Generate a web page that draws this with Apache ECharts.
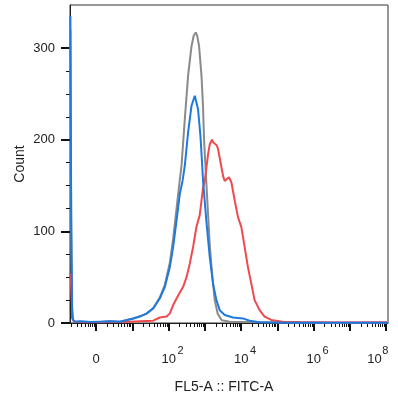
<!DOCTYPE html>
<html>
<head>
<meta charset="utf-8">
<script src="https://cdn.jsdelivr.net/npm/echarts@6/dist/echarts.min.js"></script>
<style>
html,body{margin:0;padding:0;background:#fff;}
#chart{width:398px;height:395px;}
</style>
</head>
<body>
<div id="chart"></div>
<script>
// x positions are in display decades of the biexponential axis (0 = "0", 2 = 10^2, ...)
const grayX = [-0.709,-0.687,-0.660,-0.605,-0.44,-0.165,0.11,0.385,0.66,1.025,1.394,1.575,1.759,1.897,2.034,2.125,2.219,2.290,2.356,2.447,2.537,2.631,2.694,2.749,2.790,2.840,2.906,2.950,2.977,3.024,3.079,3.134,3.203,3.271,3.354,3.464,3.684,4.234,5.058,6.158,7.258,8.027];
const grayY = [320,100,5,1.2,1.5,1,1.2,1.8,1.4,5,10,16,28,42,66,92,125,150,172,223,270,302,314,317,313,302,270,235,200,165,125,85,52,25,10,3,1.5,1,0.5,0.3,0.3,0.3];

const blueX = [-0.709,-0.687,-0.660,-0.605,-0.44,-0.165,0.11,0.385,0.66,0.825,1.025,1.21,1.394,1.575,1.759,1.897,2.034,2.125,2.219,2.309,2.384,2.447,2.537,2.631,2.722,2.763,2.812,2.878,2.95,3.043,3.134,3.225,3.318,3.409,3.546,3.775,4.05,4.234,4.509,5.058,5.608,6.158,6.708,7.258,8.027];
const blueY = [335,120,6,1.5,2,1,1.5,2,1.4,3,5,7,10.5,16,27,39.5,61,83,112,141,155,172,208,237,248,246,233,204,155,110,72,43,25,14,8.7,6,5,2.5,0.8,0.5,0.4,0.3,0.3,0.3,0.3];

const redX = [-0.709,-0.687,-0.660,-0.632,-0.55,-0.165,0.385,0.935,1.21,1.575,1.759,1.944,2.034,2.125,2.263,2.400,2.494,2.584,2.675,2.768,2.859,2.950,2.997,3.087,3.134,3.197,3.230,3.271,3.326,3.362,3.409,3.456,3.505,3.546,3.601,3.665,3.731,3.780,3.821,3.912,4.006,4.096,4.187,4.280,4.371,4.509,4.646,4.830,5.141,5.608,6.708,8.027];
const redY = [54,40,15,3,1,0.8,1.2,1.5,2,2.5,6,7,10.5,19.6,30,39.5,50,65,83,105,118,148,155,184,195,200,197,195,194,190,180,170,160,155,157,159,153.6,143,134,115.5,104.7,83,61,43,25,14,7,3.3,1.4,1,0.6,0.8];

const xMajorTicks = [0,1,2,3,4,5,6,7,8];
const xLabelValues = [0,2,4,6,8];
const xLabelBase = ['0','10','10','10','10'];
const xSupValues = [2,4,6,8];
const xLabelSup = ['2','4','6','8'];
const yMajorTicks = [0,100,200,300];
const yMinorTicks = [25,50,75,125,150,175,225,250,275];

const xMin = -0.72, xMax = 8.05, yMin = 0, yMax = 347;

// log-spaced minor tick positions
const xMinorTicks = [];
for (let n = -1; n < 8; n++) {
  for (let k = 2; k <= 9; k++) {
    const v = n + Math.log10(k);
    if (v > xMin && v < xMax) xMinorTicks.push(+v.toFixed(4));
  }
}

const pair = (xs, ys) => xs.map((x, i) => [x, ys[i]]);
const FONT = 'Liberation Sans';
const isLast = v => Math.round(v) === xLabelValues[xLabelValues.length - 1];

const chart = echarts.init(document.getElementById('chart'), null, {renderer: 'canvas'});
chart.setOption({
  animation: false,
  backgroundColor: '#ffffff',
  grid: {left: 70, right: 10, top: 5, bottom: 72, containLabel: false, outerBoundsMode: 'none',
         show: true, borderColor: '#333', borderWidth: 1, backgroundColor: 'transparent'},
  xAxis: [{
    type: 'value', min: xMin, max: xMax, position: 'bottom',
    name: 'FL5-A :: FITC-A', nameLocation: 'middle', nameGap: 57, nameMoveOverlap: false,
    nameTextStyle: {fontFamily: FONT, fontSize: 14, color: '#222', padding: [0, 10, 0, 0]},
    axisLine: {show: true, onZero: false, lineStyle: {color: '#222', width: 1}},
    axisTick: {show: true, customValues: xMajorTicks, length: 8, inside: false, lineStyle: {color: '#111', width: 2}},
    axisLabel: {
      show: true, customValues: xLabelValues, margin: 30, color: '#222',
      fontFamily: FONT, fontSize: 13, hideOverlap: false,
      formatter: function (v) {
        const i = xLabelValues.indexOf(Math.round(v));
        if (i < 0) return '';
        return isLast(v) ? '{r|' + xLabelBase[i] + '}' : xLabelBase[i];
      },
      rich: {
        r: {fontFamily: FONT, fontSize: 13, color: '#222', width: 38, align: 'left'}
      }
    },
    splitLine: {show: false}
  }, {
    type: 'value', min: xMin, max: xMax, position: 'bottom',
    axisLine: {show: false, onZero: false},
    axisTick: {show: true, customValues: xMinorTicks, length: 4, lineStyle: {color: '#111', width: 1}},
    axisLabel: {
      show: true, customValues: xSupValues, margin: 22, color: '#222',
      fontFamily: FONT, fontSize: 11, hideOverlap: false,
      formatter: function (v) {
        const i = xSupValues.indexOf(Math.round(v));
        if (i < 0) return '';
        return (isLast(v) ? '{m|' : '{n|') + xLabelSup[i] + '}';
      },
      rich: {
        n: {fontFamily: FONT, fontSize: 11, color: '#222', width: 30, align: 'right'},
        m: {fontFamily: FONT, fontSize: 11, color: '#222', width: 8, align: 'left'}
      }
    },
    splitLine: {show: false}
  }],
  yAxis: [{
    type: 'value', min: yMin, max: yMax, position: 'left',
    name: 'Count', nameLocation: 'middle', nameGap: 43, nameMoveOverlap: false,
    nameTextStyle: {fontFamily: FONT, fontSize: 14, color: '#222'},
    axisLine: {show: true, onZero: false, lineStyle: {color: '#222', width: 1}},
    axisTick: {show: true, customValues: yMajorTicks, length: 9, lineStyle: {color: '#111', width: 2}},
    axisLabel: {show: true, customValues: yMajorTicks, margin: 15, fontFamily: FONT, fontSize: 13, color: '#222'},
    splitLine: {show: false}
  }, {
    type: 'value', min: yMin, max: yMax, position: 'left',
    axisLine: {show: false, onZero: false},
    axisTick: {show: true, customValues: yMinorTicks, length: 4, lineStyle: {color: '#111', width: 1}},
    axisLabel: {show: false},
    splitLine: {show: false}
  }],
  series: [
    {type: 'line', name: 'control', data: pair(grayX, grayY), showSymbol: false, symbol: 'none',
     lineStyle: {color: '#8a8a8a', width: 2}, itemStyle: {color: '#8a8a8a'}, z: 2},
    {type: 'line', name: 'stained', data: pair(redX, redY), showSymbol: false, symbol: 'none',
     lineStyle: {color: '#ef4a4f', width: 2}, itemStyle: {color: '#ef4a4f'}, z: 3},
    {type: 'line', name: 'isotype', data: pair(blueX, blueY), showSymbol: false, symbol: 'none',
     lineStyle: {color: '#1f7ae0', width: 2}, itemStyle: {color: '#1f7ae0'}, z: 4}
  ]
});
</script>
</body>
</html>
